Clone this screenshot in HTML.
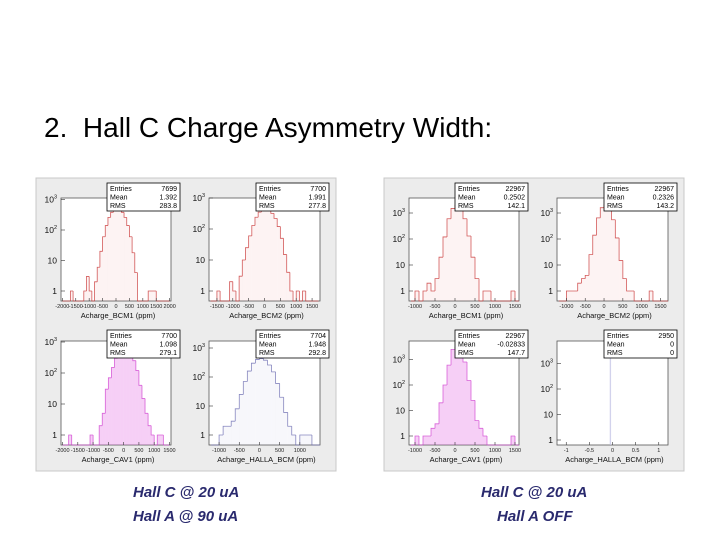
<!DOCTYPE html>
<html><head><meta charset="utf-8"><style>
body{margin:0;background:#fff;width:720px;height:540px;overflow:hidden;font-family:"Liberation Sans",Arial,sans-serif;}
.t{position:absolute;white-space:nowrap;}
.note{color:#2a2a6e;font-weight:bold;font-style:italic;font-size:15px;position:absolute;white-space:nowrap;}
</style></head><body>
<div class="t" style="left:44px;top:112px;font-size:28px;color:#000;">2.&nbsp;&nbsp;Hall C Charge Asymmetry Width:</div>
<svg id="plots" width="720" height="540" style="position:absolute;left:0;top:0" xmlns="http://www.w3.org/2000/svg"></svg>
<div class="note" style="left:133px;top:484px;">Hall C @ 20 uA</div>
<div class="note" style="left:133px;top:508px;">Hall A @ 90 uA</div>
<div class="note" style="left:481px;top:484px;">Hall C @ 20 uA</div>
<div class="note" style="left:497px;top:508px;">Hall A OFF</div>
<script>
// ---- data ----
const bcm1LeftStart=-2000, bcm1LeftValues=[0,0,0,1,0,0,0,0,1,3,1,0,2,6,20,60,140,260,380,480,500,470,380,260,140,60,18,4,0,0,0,0,1,1,1,0,0,0,0,0];
const bcm2LeftStart=-1700, bcm2LeftValues=[0,0,1,0,0,0,2,1,0,3,10,25,60,130,240,350,420,440,400,320,220,120,50,15,4,1,0,1,0,1,0,0,0,0];
const cav1LeftStart=-2000, cav1LeftValues=[0,0,1,0,0,0,0,0,0,1,0,0,2,5,30,70,150,300,400,500,520,480,400,250,120,40,15,5,2,1,0,1,1,0,0];
const hallaLeftStart=-1200, hallaLeftValues=[0,0,1,2,2,3,8,25,70,160,300,400,430,380,260,150,60,20,6,2,1,0,1,1,1,0,0];
const bcm1RightStart=-1100, bcm1RightValues=[0,1,0,1,2,1,3,20,120,600,1500,2000,1500,600,130,20,3,0,1,1,0,0,0,0,0,1,0];
const bcm2RightStart=-1200, bcm2RightValues=[0,0,1,1,1,2,3,4,25,140,650,1600,2100,1500,550,110,15,3,1,1,0,0,0,0,1,0,0,0,0];
const cav1RightStart=-1100, cav1RightValues=[0,1,0,1,1,2,3,20,100,600,2500,3000,2200,800,150,25,4,2,1,0,0,0,0,0,0,1,0];
const hallaRightStart=-0.05, hallaRightValues=[2950];
const statsNames=["Entries","Mean","RMS"];
const stats=[["7699","1.392","283.8"],["7700","1.991","277.8"],["7700","1.098","279.1"],["7704","1.948","292.8"],
             ["22967","0.2502","142.1"],["22967","0.2326","143.2"],["22967","-0.02833","147.7"],["2950","0","0"]];
const xTitles=["Acharge_BCM1 (ppm)","Acharge_BCM2 (ppm)","Acharge_CAV1 (ppm)","Acharge_HALLA_BCM (ppm)"];
const ticksA=[-2000,-1500,-1000,-500,0,500,1000,1500,2000];
const ticksB=[-1500,-1000,-500,0,500,1000,1500];
const ticksC=[-2000,-1500,-1000,-500,0,500,1000,1500];
const ticksD=[-1000,-500,0,500,1000];
const ticksE=[-1000,-500,0,500,1000,1500];
const ticksF=[-1,-0.5,0,0.5,1];
const decadeLabelsExp=[0,1,2,3];

const svg=document.getElementById('plots');
const NS="http://www.w3.org/2000/svg";
function mk(tag,attrs,parent){const e=document.createElementNS(NS,tag);for(const k in attrs)e.setAttribute(k,attrs[k]);(parent||svg).appendChild(e);return e;}

function panelBg(ox,oy,name){
  const r=mk('rect',{x:ox,y:oy,width:300,height:293,fill:'#ececec',stroke:'#c8c8c8'});
  
  
}
panelBg(36,178,'left-canvas');
panelBg(384,178,'right-canvas');

function hist(o){
  const g=mk('g',{});
  
  
  const fx=o.fx,fy=o.fy,fw=o.fw,fh=o.fh;
  mk('rect',{x:fx,y:fy,width:fw,height:fh,fill:'#fff',stroke:'#555','stroke-width':0.8},g);
  const X=v=>fx+(v-o.xmin)/(o.xmax-o.xmin)*fw;
  const Y=v=>Math.max(fy,Math.min(fy+fh,o.y1-o.dec*Math.log10(v)));
  const bot=fy+fh;
  let path='';
  let prevY=bot;
  o.values.forEach((v,i)=>{
    const x0=X(o.start+i*o.bw),x1=X(o.start+(i+1)*o.bw);
    const yv=v>0?Y(v):bot;
    if(v>0){
      const b=mk('rect',{x:x0,y:yv,width:Math.max(0.8,x1-x0),height:bot-yv,fill:o.fill,opacity:o.op},g);
      
      
    }
    path+=`M${x0},${prevY}V${yv}H${x1}`;
    prevY=yv;
  });
  const ln=mk('path',{d:path,stroke:o.color,'stroke-width':0.8,fill:'none',opacity:0.8},g);
  
  
  o.ticks.forEach(t=>{
    const x=X(t);
    mk('line',{x1:x,x2:x,y1:bot,y2:bot-3,stroke:'#333','stroke-width':0.6},g);
    const tx=mk('text',{x:x,y:bot+7,'font-size':5.5,'text-anchor':'middle',fill:'#222'},g);
    tx.textContent=String(t);
    
    
  });
  decadeLabelsExp.forEach(e=>{
    const y=o.y1-o.dec*e;
    if(y<fy-2||y>bot)return;
    mk('line',{x1:fx,x2:fx+4,y1:y,y2:y,stroke:'#333','stroke-width':0.6},g);
    const tx=mk('text',{x:fx-4,y:y+3,'font-size':8.5,'text-anchor':'end',fill:'#111'},g);
    tx.textContent=e===0?'1':'10';
    if(e>=2){const s=mk('tspan',{dy:-4,'font-size':5.5},tx);s.textContent=String(e);}
    
    
  });
  const xt=mk('text',{x:fx+fw/2+2,y:bot+17,'font-size':7.5,'text-anchor':'middle',fill:'#111'},g);
  xt.textContent=o.title;
  
  
  const sb=mk('g',{},g);
  
  
  mk('rect',{x:o.sx,y:o.sy,width:73,height:28,fill:'#fff',stroke:'#000','stroke-width':0.8},sb);
  statsNames.forEach((n,i)=>{
    const a=mk('text',{x:o.sx+3,y:o.sy+8+i*8.5,'font-size':7,fill:'#000'},sb);a.textContent=n;
    const b=mk('text',{x:o.sx+70,y:o.sy+8+i*8.5,'font-size':7,'text-anchor':'end',fill:'#000'},sb);b.textContent=o.stats[i];
  });
}
const red='#c83232',redF='#e06060',mag='#d040d0',magF='#e060e0',blu='#6a6ab0',bluF='#9a9ad0';
function P(ox,col,row){return {fx:ox+(col?173:25),fy:178+(row?163:20),fw:col?111:110,fh:row?104:103,sx:ox+(col?220:71),sy:178+(row?152:5)};}
const L=36,R=384;
hist(Object.assign(P(L,0,0),{name:'left-bcm1-hist',xmin:-2050,xmax:2050,ticks:ticksA,start:bcm1LeftStart,bw:100,values:bcm1LeftValues,y1:291,dec:30.5,color:red,fill:redF,op:0.08,title:xTitles[0],stats:stats[0]}));
hist(Object.assign(P(L,1,0),{name:'left-bcm2-hist',xmin:-1750,xmax:1750,ticks:ticksB,start:bcm2LeftStart,bw:100,values:bcm2LeftValues,y1:291,dec:31,color:red,fill:redF,op:0.08,title:xTitles[1],stats:stats[1]}));
hist(Object.assign(P(L,0,1),{name:'left-cav1-hist',xmin:-2050,xmax:1550,ticks:ticksC,start:cav1LeftStart,bw:100,values:cav1LeftValues,y1:435,dec:31,color:mag,fill:magF,op:0.3,title:xTitles[2],stats:stats[2]}));
hist(Object.assign(P(L,1,1),{name:'left-halla-hist',xmin:-1250,xmax:1500,ticks:ticksD,start:hallaLeftStart,bw:100,values:hallaLeftValues,y1:435,dec:29,color:blu,fill:bluF,op:0.08,title:xTitles[3],stats:stats[3]}));
hist(Object.assign(P(R,0,0),{name:'right-bcm1-hist',xmin:-1150,xmax:1600,ticks:ticksE,start:bcm1RightStart,bw:100,values:bcm1RightValues,y1:291,dec:26,color:red,fill:redF,op:0.08,title:xTitles[0],stats:stats[4]}));
hist(Object.assign(P(R,1,0),{name:'right-bcm2-hist',xmin:-1250,xmax:1700,ticks:ticksE,start:bcm2RightStart,bw:100,values:bcm2RightValues,y1:291,dec:26,color:red,fill:redF,op:0.08,title:xTitles[1],stats:stats[5]}));
hist(Object.assign(P(R,0,1),{name:'right-cav1-hist',xmin:-1150,xmax:1600,ticks:ticksE,start:cav1RightStart,bw:100,values:cav1RightValues,y1:436,dec:25.5,color:mag,fill:magF,op:0.3,title:xTitles[2],stats:stats[6]}));
hist(Object.assign(P(R,1,1),{name:'right-halla-hist',xmin:-1.2,xmax:1.2,ticks:ticksF,start:hallaRightStart,bw:0.02,values:hallaRightValues,y1:440,dec:25.5,color:'#b8b8e0',fill:'#d0d0f0',op:0.5,title:xTitles[3],stats:stats[7]}));
</script>
</body></html>
